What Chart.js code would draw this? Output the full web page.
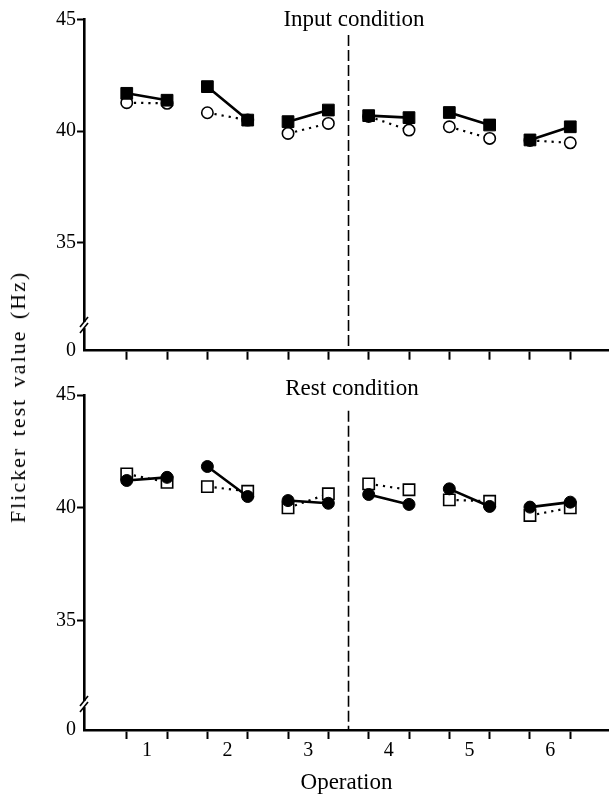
<!DOCTYPE html>
<html><head><meta charset="utf-8">
<script src="https://cdn.jsdelivr.net/npm/chart.js@4.4.0/dist/chart.umd.min.js"></script>
<style>
html,body{margin:0;padding:0;background:#fff;}
#wrap{position:relative;width:609px;height:798px;overflow:hidden;background:#fff;}
#c1{position:absolute;left:0;top:0;}
#c2{position:absolute;left:0;top:370px;}
#ytitle{position:absolute;left:17.5px;top:396.5px;transform:translate(-50%,-50%) rotate(-90deg);white-space:nowrap;font-family:"Liberation Serif","DejaVu Serif",serif;font-size:22px;letter-spacing:2px;word-spacing:3px;color:#000;}
</style></head><body>
<div id="wrap">
<canvas id="c1" width="609" height="370"></canvas>
<canvas id="c2" width="609" height="428"></canvas>
<div id="ytitle">Flicker test value (Hz)</div>
</div>
<script>
// ---- data ----
const operations = [1, 2, 3, 4, 5, 6];
const xTickLabels = ['1', '2', '3', '4', '5', '6'];
const yTickValues = [35, 40, 45];
const yBreakLabel = '0';
const xTitle = 'Operation';
const topTitle = 'Input condition';
const bottomTitle = 'Rest condition';

// Input condition: filled squares (solid) and open circles (dotted), before/after of each operation
const inputFilledBefore = [41.69, 41.99, 40.42, 40.69, 40.83, 39.60];
const inputFilledAfter  = [41.38, 40.49, 40.94, 40.60, 40.27, 40.19];
const inputOpenBefore   = [41.27, 40.82, 39.89, 40.65, 40.19, 39.58];
const inputOpenAfter    = [41.24, 40.49, 40.34, 40.04, 39.67, 39.47];

// Rest condition: filled circles (solid) and open squares (dotted)
const restFilledBefore = [41.21, 41.83, 40.32, 40.59, 40.84, 40.03];
const restFilledAfter  = [41.35, 40.50, 40.20, 40.15, 40.06, 40.25];
const restOpenBefore   = [41.50, 40.94, 40.00, 41.06, 40.35, 39.66];
const restOpenAfter    = [41.13, 40.73, 40.62, 40.80, 40.29, 40.00];

// ---- layout constants ----
const Y_MIN = 30.15, Y_MAX = 45, BREAK_AT = 31.3;
const X_MIN = 0.22, X_MAX = 6.73, OFFSET = 0.25, DIVIDER = 3.5, DIVIDER_TOP = 44.3;

Chart.defaults.font.family = '"Liberation Serif", "DejaVu Serif", serif';
Chart.defaults.color = '#000';

function pairs(before, after) {
  const pts = [];
  operations.forEach((op, i) => {
    pts.push({x: op - OFFSET, y: before[i]}, {x: op + OFFSET, y: after[i]}, {x: op + 0.5, y: null});
  });
  return pts;
}
const xTicks = [];
operations.forEach(op => { xTicks.push(op - OFFSET, op, op + OFFSET); });

const decor = {
  id: 'decor',
  afterDraw(chart, args, opts) {
    const ctx = chart.ctx, ys = chart.scales.y;
    const bx = chart.chartArea.left;
    const by = ys.getPixelForValue(BREAK_AT);
    ctx.save();
    ctx.fillStyle = '#fff';
    ctx.fillRect(bx - 3, by - 3, 6, 6);
    ctx.strokeStyle = '#000';
    ctx.lineWidth = 1.6;
    [-3, 3].forEach(d => {
      ctx.beginPath();
      ctx.moveTo(bx - 4, by + d + 5);
      ctx.lineTo(bx + 4, by + d - 5);
      ctx.stroke();
    });
    ctx.fillStyle = '#000';
    ctx.font = '23px "Liberation Serif", "DejaVu Serif", serif';
    ctx.textAlign = 'center';
    ctx.textBaseline = 'alphabetic';
    ctx.fillText(opts.text, opts.tx, opts.ty);
    ctx.restore();
  }
};

function makeChart(id, cfg) {
  const solidShape = cfg.solidShape, openShape = cfg.openShape;
  const rad = s => s === 'rect' ? 8.3 : 6;
  new Chart(document.getElementById(id), {
    type: 'line',
    data: {
      datasets: [
        { data: pairs(cfg.solidBefore, cfg.solidAfter), borderColor: '#000', borderWidth: 2.6,
          pointStyle: solidShape, pointRadius: rad(solidShape), pointBackgroundColor: '#000',
          pointBorderColor: '#000', pointBorderWidth: 1, spanGaps: false, order: 0 },
        { data: pairs(cfg.openBefore, cfg.openAfter), borderColor: '#000', borderWidth: 2.2,
          borderDash: [2.2, 5], pointStyle: openShape, pointRadius: rad(openShape) - 0.3,
          pointBackgroundColor: '#fff', pointBorderColor: '#000', pointBorderWidth: 1.6,
          spanGaps: false, order: 1 },
        { data: [{x: DIVIDER, y: DIVIDER_TOP}, {x: DIVIDER, y: Y_MIN}], borderColor: '#000',
          borderWidth: 1.6, borderDash: [11, 4], pointRadius: 0, order: 2 }
      ]
    },
    options: {
      responsive: false, animation: false,
      layout: { autoPadding: false, padding: { top: cfg.padTop, left: 0, right: 0, bottom: 0 } },
      plugins: { legend: { display: false }, tooltip: { enabled: false },
        decor: { text: cfg.title, tx: cfg.tx, ty: cfg.ty } },
      scales: {
        x: {
          type: 'linear', min: X_MIN, max: X_MAX,
          afterBuildTicks: s => { s.ticks = xTicks.map(v => ({value: v})); },
          afterFit: s => { s.height = cfg.xHeight; s.paddingLeft = 0; s.paddingRight = 0; },
          grid: { drawOnChartArea: false, drawTicks: true, tickLength: 9, tickWidth: 2,
            tickColor: c => (c.tick && Number.isInteger(c.tick.value)) ? 'rgba(0,0,0,0)' : '#000' },
          border: { display: true, color: '#000', width: 2.6 },
          ticks: { autoSkip: false, maxRotation: 0, padding: 0, font: { size: 20 },
            callback: v => (cfg.showX && Number.isInteger(v)) ? xTickLabels[v - 1] : '' },
          title: { display: cfg.showX, text: xTitle, font: { size: 23 }, padding: { top: 0, bottom: 1 } }
        },
        y: {
          type: 'linear', min: Y_MIN, max: Y_MAX,
          afterBuildTicks: s => { s.ticks = [{value: Y_MIN}].concat(yTickValues.map(v => ({value: v}))); },
          afterFit: s => { s.width = 84; s.paddingTop = 0; s.paddingBottom = 0; },
          grid: { drawOnChartArea: false, drawTicks: true, tickLength: 7, tickWidth: 2,
            tickColor: c => (c.index === 0) ? 'rgba(0,0,0,0)' : '#000' },
          border: { display: true, color: '#000', width: 2.6 },
          ticks: { padding: 1, font: { size: 20 },
            callback: v => v < BREAK_AT ? yBreakLabel : String(v) }
        }
      }
    },
    plugins: [decor]
  });
}

makeChart('c1', {
  solidShape: 'rect', openShape: 'circle',
  solidBefore: inputFilledBefore, solidAfter: inputFilledAfter,
  openBefore: inputOpenBefore, openAfter: inputOpenAfter,
  padTop: 19.5, xHeight: 19.3, showX: false, title: topTitle, tx: 354, ty: 26
});
makeChart('c2', {
  solidShape: 'circle', openShape: 'rect',
  solidBefore: restFilledBefore, solidAfter: restFilledAfter,
  openBefore: restOpenBefore, openAfter: restOpenAfter,
  padTop: 25, xHeight: 68, showX: true, title: bottomTitle, tx: 352, ty: 25
});
</script>
</body></html>
